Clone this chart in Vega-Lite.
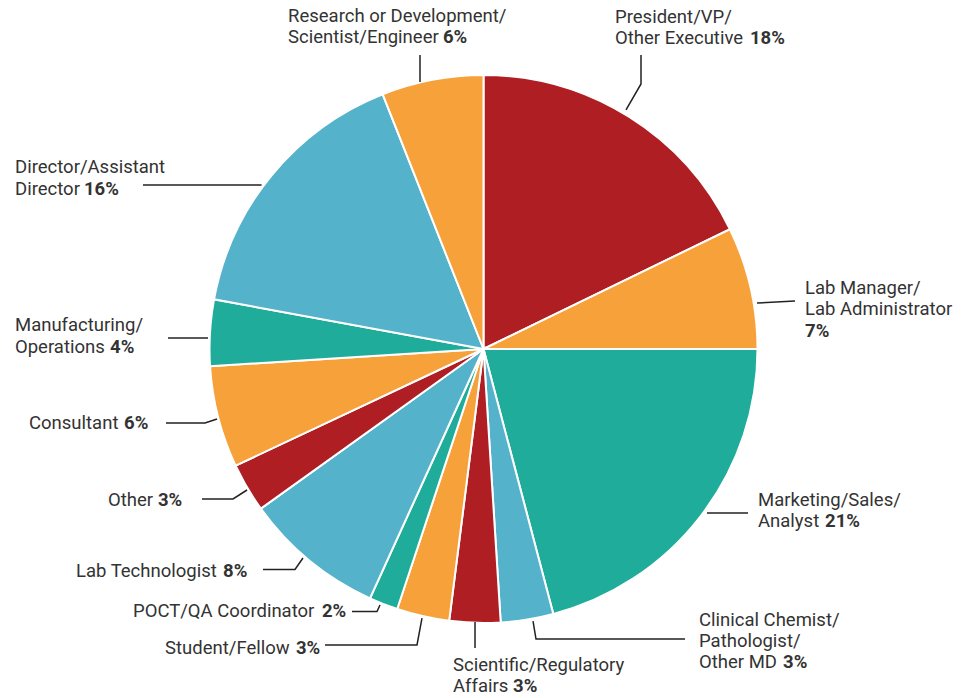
{
  "$schema": "https://vega.github.io/schema/vega-lite/v6.json",
  "width": 972,
  "height": 698,
  "autosize": {"type": "fit", "contains": "padding"},
  "padding": 0,
  "background": "white",
  "config": {"view": {"stroke": null}, "axis": {"disable": true}},
  "datasets": {
    "slices": [
      {"name": "President/VP/Other Executive", "k": 1, "pct": 17.8},
      {"name": "Lab Manager/Lab Administrator", "k": 2, "pct": 7.2},
      {"name": "Marketing/Sales/Analyst", "k": 3, "pct": 20.9},
      {"name": "Clinical Chemist/Pathologist/Other MD", "k": 4, "pct": 3.1},
      {"name": "Scientific/Regulatory Affairs", "k": 5, "pct": 3.0},
      {"name": "Student/Fellow", "k": 6, "pct": 3.1},
      {"name": "POCT/QA Coordinator", "k": 7, "pct": 1.7},
      {"name": "Lab Technologist", "k": 8, "pct": 8.3},
      {"name": "Other", "k": 9, "pct": 2.9},
      {"name": "Consultant", "k": 10, "pct": 6.0},
      {"name": "Manufacturing/Operations", "k": 11, "pct": 3.9},
      {"name": "Director/Assistant Director", "k": 12, "pct": 16.1},
      {"name": "Research or Development/Scientist/Engineer", "k": 13, "pct": 6.0}
    ],
    "leaders": [
      {"name": "Research", "k": 1, "u": -23.18, "v": 97.45},
      {"name": "Research", "k": 2, "u": -23.18, "v": 107.3},
      {"name": "President", "k": 1, "u": 52.01, "v": 87.23},
      {"name": "President", "k": 2, "u": 57.48, "v": 96.72},
      {"name": "President", "k": 3, "u": 57.48, "v": 107.3},
      {"name": "LabManager", "k": 1, "u": 99.82, "v": 16.79},
      {"name": "LabManager", "k": 2, "u": 113.69, "v": 17.52},
      {"name": "Marketing", "k": 1, "u": 81.57, "v": -59.85},
      {"name": "Marketing", "k": 2, "u": 96.53, "v": -59.85},
      {"name": "Clinical", "k": 1, "u": 18.07, "v": -99.27},
      {"name": "Clinical", "k": 2, "u": 19.16, "v": -105.84},
      {"name": "Clinical", "k": 3, "u": 73.54, "v": -105.84},
      {"name": "Scientific", "k": 1, "u": -3.1, "v": -99.64},
      {"name": "Scientific", "k": 2, "u": -3.1, "v": -109.12},
      {"name": "Student", "k": 1, "u": -22.45, "v": -98.18},
      {"name": "Student", "k": 2, "u": -24.27, "v": -108.03},
      {"name": "Student", "k": 3, "u": -57.85, "v": -108.03},
      {"name": "POCT", "k": 1, "u": -37.77, "v": -93.43},
      {"name": "POCT", "k": 2, "u": -38.87, "v": -95.8},
      {"name": "POCT", "k": 3, "u": -47.99, "v": -95.8},
      {"name": "LabTech", "k": 1, "u": -65.88, "v": -76.28},
      {"name": "LabTech", "k": 2, "u": -68.8, "v": -80.47},
      {"name": "LabTech", "k": 3, "u": -80.47, "v": -80.47},
      {"name": "Other", "k": 1, "u": -86.31, "v": -51.46},
      {"name": "Other", "k": 2, "u": -91.42, "v": -54.74},
      {"name": "Other", "k": 3, "u": -102.74, "v": -54.74},
      {"name": "Consultant", "k": 1, "u": -97.26, "v": -25.55},
      {"name": "Consultant", "k": 2, "u": -101.64, "v": -27.01},
      {"name": "Consultant", "k": 3, "u": -115.88, "v": -27.01},
      {"name": "Manufacturing", "k": 1, "u": -100.55, "v": 4.01},
      {"name": "Manufacturing", "k": 2, "u": -115.15, "v": 4.01},
      {"name": "Director", "k": 1, "u": -81.0, "v": 59.85},
      {"name": "Director", "k": 2, "u": -124.27, "v": 59.85}
    ],
    "labels": [
      {"t": "Research or Development/", "u": -71.35, "v": 121.53, "w": "n"},
      {"t": "Scientist/Engineer", "u": -71.35, "v": 113.87, "w": "n"},
      {"t": "6%", "u": -14.78, "v": 113.87, "w": "b"},
      {"t": "President/VP/", "u": 47.99, "v": 121.17, "w": "n"},
      {"t": "Other Executive", "u": 47.99, "v": 113.5, "w": "n"},
      {"t": "18%", "u": 97.26, "v": 113.5, "w": "b"},
      {"t": "Lab Manager/", "u": 117.34, "v": 22.26, "w": "n"},
      {"t": "Lab Administrator", "u": 117.34, "v": 14.6, "w": "n"},
      {"t": "7%", "u": 117.34, "v": 6.57, "w": "b"},
      {"t": "Marketing/Sales/", "u": 100.18, "v": -55.11, "w": "n"},
      {"t": "Analyst", "u": 100.18, "v": -62.77, "w": "n"},
      {"t": "21%", "u": 124.64, "v": -62.77, "w": "b"},
      {"t": "Clinical Chemist/", "u": 78.65, "v": -98.91, "w": "n"},
      {"t": "Pathologist/", "u": 78.65, "v": -106.57, "w": "n"},
      {"t": "Other MD", "u": 78.65, "v": -114.23, "w": "n"},
      {"t": "3%", "u": 109.31, "v": -114.23, "w": "b"},
      {"t": "Scientific/Regulatory", "u": -11.13, "v": -115.33, "w": "n"},
      {"t": "Affairs", "u": -11.13, "v": -122.99, "w": "n"},
      {"t": "3%", "u": 10.77, "v": -122.99, "w": "b"},
      {"t": "Student/Fellow", "u": -116.24, "v": -109.12, "w": "n"},
      {"t": "3%", "u": -68.43, "v": -109.12, "w": "b"},
      {"t": "POCT/QA Coordinator", "u": -127.92, "v": -95.62, "w": "n"},
      {"t": "2%", "u": -58.94, "v": -95.62, "w": "b"},
      {"t": "Lab Technologist", "u": -148.72, "v": -81.02, "w": "n"},
      {"t": "8%", "u": -95.07, "v": -81.02, "w": "b"},
      {"t": "Other", "u": -137.04, "v": -55.11, "w": "n"},
      {"t": "3%", "u": -118.8, "v": -55.11, "w": "b"},
      {"t": "Consultant", "u": -165.88, "v": -27.01, "w": "n"},
      {"t": "6%", "u": -131.2, "v": -27.01, "w": "b"},
      {"t": "Manufacturing/", "u": -170.99, "v": 8.76, "w": "n"},
      {"t": "Operations", "u": -170.99, "v": 0.73, "w": "n"},
      {"t": "4%", "u": -136.31, "v": 0.73, "w": "b"},
      {"t": "Director/Assistant", "u": -170.99, "v": 66.42, "w": "n"},
      {"t": "Director", "u": -170.99, "v": 58.39, "w": "n"},
      {"t": "16%", "u": -145.8, "v": 58.39, "w": "b"}
    ]
  },
  "layer": [
    {
      "data": {"name": "slices"},
      "mark": {"type": "arc", "outerRadius": 274, "stroke": "white", "strokeWidth": 2},
      "encoding": {
        "x": {"datum": 0, "type": "quantitative", "scale": {"domain": [-176.46, 178.28], "nice": false, "zero": false}, "axis": null},
        "y": {"datum": 0, "type": "quantitative", "scale": {"domain": [-127.37, 127.37], "nice": false, "zero": false}, "axis": null},
        "theta": {"field": "pct", "type": "quantitative", "stack": true},
        "order": {"field": "k", "type": "quantitative"},
        "color": {
          "field": "name",
          "type": "nominal",
          "legend": null,
          "scale": {
            "domain": ["President/VP/Other Executive", "Lab Manager/Lab Administrator", "Marketing/Sales/Analyst", "Clinical Chemist/Pathologist/Other MD", "Scientific/Regulatory Affairs", "Student/Fellow", "POCT/QA Coordinator", "Lab Technologist", "Other", "Consultant", "Manufacturing/Operations", "Director/Assistant Director", "Research or Development/Scientist/Engineer"],
            "range": ["#AE1E23", "#F6A13A", "#1FAC9A", "#54B2CB", "#AE1E23", "#F6A13A", "#1FAC9A", "#54B2CB", "#AE1E23", "#F6A13A", "#1FAC9A", "#54B2CB", "#F6A13A"]
          }
        }
      }
    },
    {
      "data": {"name": "leaders"},
      "mark": {"type": "line", "color": "#222222", "strokeWidth": 1.5},
      "encoding": {
        "x": {"field": "u", "type": "quantitative", "scale": {"domain": [-176.46, 178.28], "nice": false, "zero": false}, "axis": null},
        "y": {"field": "v", "type": "quantitative", "scale": {"domain": [-127.37, 127.37], "nice": false, "zero": false}, "axis": null},
        "detail": {"field": "name", "type": "nominal"},
        "order": {"field": "k", "type": "quantitative"}
      }
    },
    {
      "data": {"name": "labels"},
      "transform": [{"filter": "datum.w === 'n'"}],
      "mark": {"type": "text", "align": "left", "baseline": "middle", "font": "Roboto", "fontSize": 18.5, "color": "#333333"},
      "encoding": {
        "x": {"field": "u", "type": "quantitative", "scale": {"domain": [-176.46, 178.28], "nice": false, "zero": false}, "axis": null},
        "y": {"field": "v", "type": "quantitative", "scale": {"domain": [-127.37, 127.37], "nice": false, "zero": false}, "axis": null},
        "text": {"field": "t", "type": "nominal"}
      }
    },
    {
      "data": {"name": "labels"},
      "transform": [{"filter": "datum.w === 'b'"}],
      "mark": {"type": "text", "align": "left", "baseline": "middle", "font": "Roboto", "fontSize": 18.5, "fontWeight": "bold", "color": "#333333"},
      "encoding": {
        "x": {"field": "u", "type": "quantitative", "scale": {"domain": [-176.46, 178.28], "nice": false, "zero": false}, "axis": null},
        "y": {"field": "v", "type": "quantitative", "scale": {"domain": [-127.37, 127.37], "nice": false, "zero": false}, "axis": null},
        "text": {"field": "t", "type": "nominal"}
      }
    }
  ]
}
